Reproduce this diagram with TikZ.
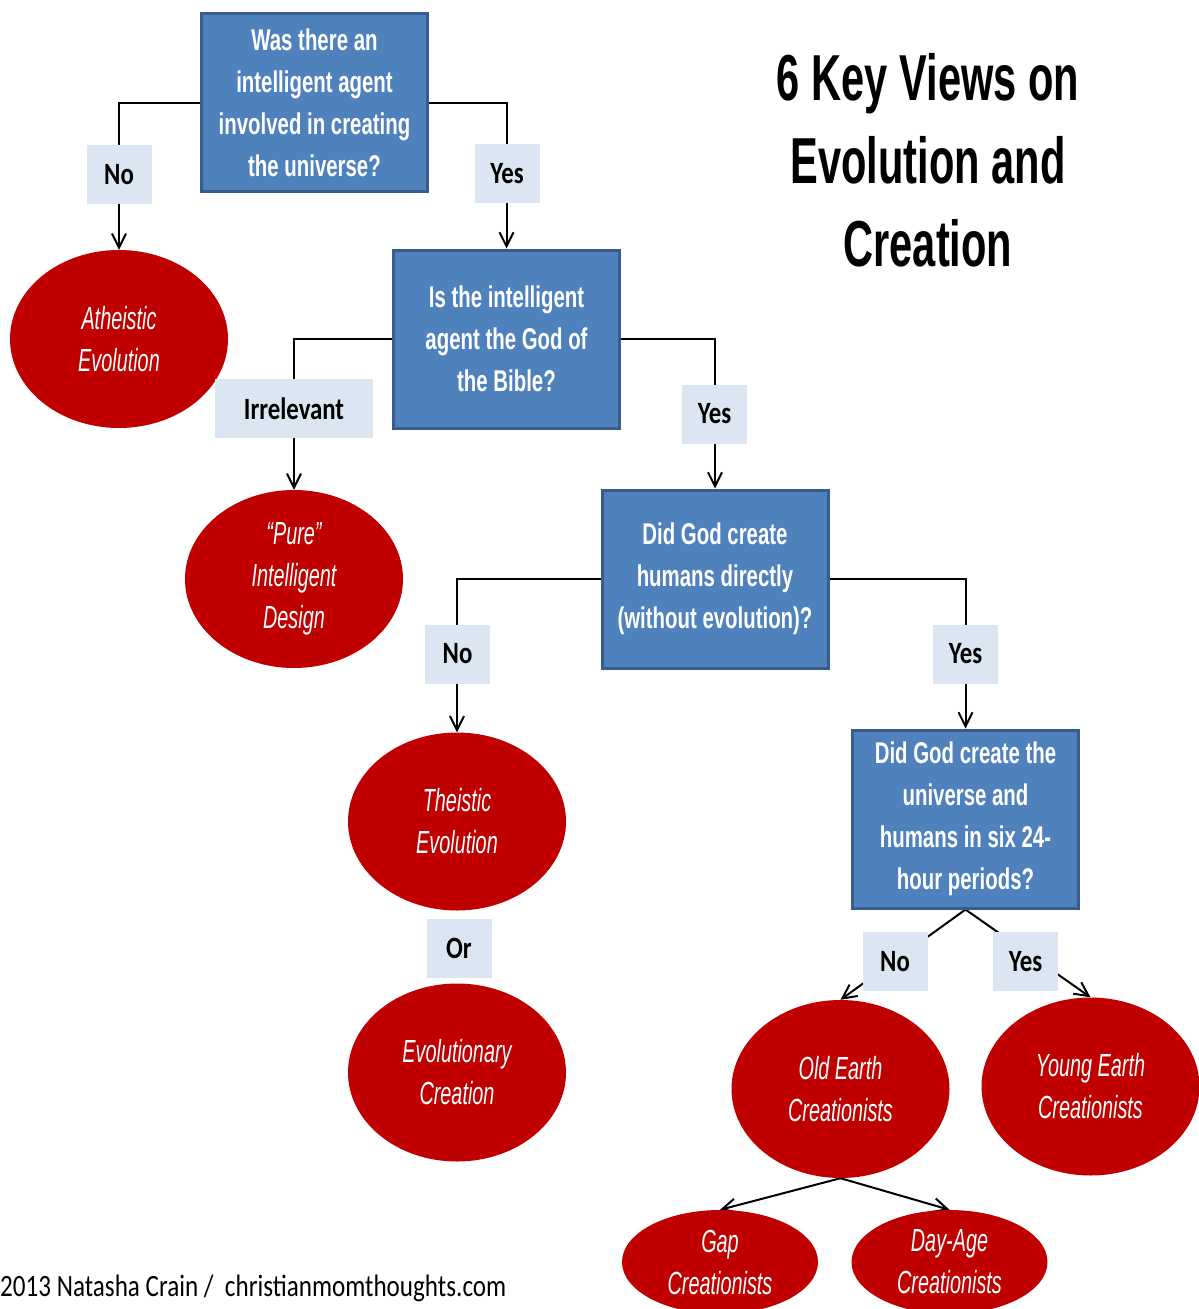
\documentclass[tikz,border=0pt]{standalone}
\usepackage{fontspec}
\newfontfamily\qfont[FakeStretch=0.68]{Liberation Sans}
\newfontfamily\vfont[FakeStretch=0.62]{Liberation Sans}
\newfontfamily\tfont[FakeStretch=0.64]{Liberation Sans}
\newfontfamily\lfont[FakeStretch=0.8]{Carlito}
\newfontfamily\cfont[FakeStretch=0.81]{Carlito}
\usetikzlibrary{shapes.geometric,arrows.meta,backgrounds}
\definecolor{qblue}{HTML}{4F81BD}
\definecolor{qedge}{HTML}{385D8A}
\definecolor{lblue}{HTML}{DCE6F2}
\definecolor{vred}{HTML}{C00000}
\tikzset{
  question/.style={draw=qedge,fill=qblue,line width=3pt,minimum width=226pt,minimum height=178pt,inner sep=0pt,
    align=center,text=white,font=\qfont\bfseries\fontsize{30}{42}\selectfont},
  answer/.style={fill=lblue,minimum width=65pt,minimum height=59pt,inner sep=0pt,font=\lfont\bfseries\fontsize{31}{31}\selectfont},
  view/.style={ellipse,fill=vred,minimum width=218pt,minimum height=178pt,inner sep=0pt,
    align=center,text=white,font=\vfont\itshape\fontsize{32}{42}\selectfont},
  link/.style={line width=2pt,-{Straight Barb[length=14pt,width=14pt]}}
}
\begin{document}
\begin{tikzpicture}[x=1pt,y=-1pt]
  \useasboundingbox (0,0) rectangle (1199,1309);
  % questions
  \node[question] (q1) at (314.5,102.5) {Was there an\\intelligent agent\\involved in creating\\the universe?};
  \node[question] (q2) at (506.5,339) {Is the intelligent\\agent the God of\\the Bible?};
  \node[question] (q3) at (715,579) {Did God create\\humans directly\\(without evolution)?};
  \node[question] (q4) at (965.5,819) {Did God create the\\universe and\\humans in six 24-\\hour periods?};
  % views
  \node[view] (ath) at (119,339) {Atheistic\\Evolution};
  \node[view] (pid) at (294,579) {“Pure”\\Intelligent\\Design};
  \node[view] (te) at (457,821.5) {Theistic\\Evolution};
  \node[view] (ec) at (457,1072.5) {Evolutionary\\Creation};
  \node[view] (oec) at (840.5,1089) {Old Earth\\Creationists};
  \node[view] (yec) at (1090.5,1086.5) {Young Earth\\Creationists};
  \node[view,minimum width=196pt,minimum height=104pt] (gap) at (720,1262) {Gap\\Creationists};
  \node[view,minimum width=196pt,minimum height=104pt] (dac) at (949.5,1262) {Day-Age\\Creationists};
  % answers
  \node[answer] (no1) at (119,174.5) {No};
  \node[answer] (yes1) at (507,173.5) {Yes};
  \node[answer,minimum width=158pt] (irr) at (294,408.5) {Irrelevant};
  \node[answer] (yes2) at (714.5,414) {Yes};
  \node[answer] (no3) at (457.5,654) {No};
  \node[answer] (yes3) at (965.5,654) {Yes};
  \node[answer] (or) at (459,948.5) {Or};
  \node[answer] (no4) at (895,961.5) {No};
  \node[answer] (yes4) at (1025.5,961.5) {Yes};

  \begin{pgfonlayer}{background}
    \draw[link] (q1.west) -| (ath.north);
    \draw[link] (q1.east) -| (q2.north);
    \draw[link] (q2.west) -| (pid.north);
    \draw[link] (q2.east) -| (q3.north);
    \draw[link] (q3.west) -| (te.north);
    \draw[link] (q3.east) -| (q4.north);
    \draw[link] (q4.south) -- (oec.north);
    \draw[link] (q4.south) -- (yec.north);
    \draw[link] (oec.south) -- (gap.north);
    \draw[link] (oec.south) -- (dac.north);
  \end{pgfonlayer}

  \node[align=center,font=\tfont\bfseries\fontsize{65}{83}\selectfont] (title) at (928,160) {6 Key Views on\\Evolution and\\Creation};
  \node[anchor=base west,inner sep=0pt,font=\cfont\fontsize{31}{31}\selectfont] (credit) at (0,1296) {2013 Natasha Crain /\ \ christianmomthoughts.com};
\end{tikzpicture}
\end{document}
